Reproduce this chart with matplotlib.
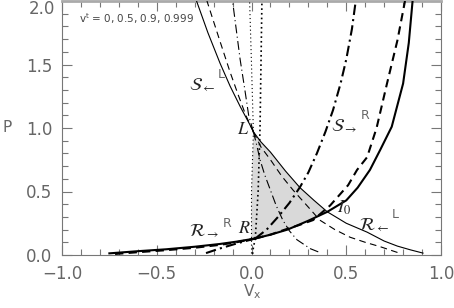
import numpy as np
import matplotlib
matplotlib.use("Agg")
import matplotlib.pyplot as plt
from matplotlib.ticker import MultipleLocator

# states
L_state = (0.01, 0.97)
R_state = (0.02, 0.13)
I0_state = (0.40, 0.34)

# ---- curves from the left state (thin lines) ----
# v^t = 0
sL0_v = [0.01, -0.01, -0.06, -0.113, -0.166, -0.23, -0.29]
sL0_p = [0.97, 1.03, 1.17, 1.33, 1.51, 1.75, 2.0]
rL0_v = [0.01, 0.05, 0.10, 0.18, 0.256, 0.33, 0.40, 0.50, 0.61, 0.70, 0.77, 0.84, 0.905]
rL0_p = [0.97, 0.89, 0.81, 0.66, 0.53, 0.43, 0.34, 0.25, 0.18, 0.11, 0.07, 0.04, 0.015]
# v^t = 0.5
sL1_v = [0.01, -0.03, -0.07, -0.113, -0.17, -0.235]
sL1_p = [0.97, 1.10, 1.26, 1.44, 1.70, 2.0]
rL1_v = [0.01, 0.05, 0.10, 0.16, 0.22, 0.31, 0.36, 0.44, 0.52, 0.60, 0.68, 0.78]
rL1_p = [0.97, 0.85, 0.75, 0.62, 0.51, 0.36, 0.275, 0.20, 0.14, 0.10, 0.065, 0.015]
# v^t = 0.9
sL2_v = [0.01, -0.015, -0.035, -0.06, -0.08, -0.10]
sL2_p = [0.97, 1.10, 1.30, 1.54, 1.77, 2.0]
rL2_v = [0.01, 0.03, 0.045, 0.07, 0.10, 0.13, 0.165, 0.20, 0.24, 0.27, 0.31, 0.36]
rL2_p = [0.97, 0.85, 0.75, 0.63, 0.51, 0.39, 0.275, 0.19, 0.12, 0.09, 0.05, 0.02]
# v^t = 0.999
sL3_v = [0.01, 0.0, -0.01]
sL3_p = [0.97, 1.5, 2.0]
rL3_v = [0.01, 0.0, 0.0, 0.0]
rL3_p = [0.97, 0.5, 0.13, 0.0]

# ---- curves from the right state (thick lines) ----
rR0_v = [-0.75, -0.6, -0.45, -0.3, -0.166, -0.08, 0.02]
rR0_p = [0.013, 0.03, 0.045, 0.065, 0.087, 0.105, 0.13]
sR0_v = [0.02, 0.10, 0.19, 0.30, 0.40, 0.50, 0.56, 0.625, 0.68, 0.74, 0.80, 0.83, 0.85]
sR0_p = [0.13, 0.16, 0.20, 0.27, 0.34, 0.43, 0.53, 0.67, 0.83, 1.01, 1.35, 1.67, 2.0]
rR1_v = [-0.72, -0.6, -0.45, -0.3, -0.166, -0.08, 0.02]
rR1_p = [0.008, 0.022, 0.038, 0.057, 0.08, 0.10, 0.13]
sR1_v = [0.02, 0.10, 0.177, 0.25, 0.325, 0.415, 0.51, 0.557, 0.61, 0.66, 0.715, 0.77, 0.81]
sR1_p = [0.13, 0.16, 0.20, 0.235, 0.275, 0.39, 0.55, 0.67, 0.77, 1.0, 1.35, 1.69, 2.0]
rR2_v = [-0.24, -0.17, -0.08, 0.02]
rR2_p = [0.015, 0.05, 0.09, 0.13]
sR2_v = [0.02, 0.08, 0.14, 0.20, 0.256, 0.30, 0.345, 0.39, 0.43, 0.47, 0.50, 0.53, 0.55]
sR2_p = [0.13, 0.20, 0.30, 0.41, 0.535, 0.65, 0.80, 0.97, 1.14, 1.35, 1.54, 1.78, 2.0]
rR3_v = [0.02, 0.01, 0.005]
rR3_p = [0.13, 0.06, 0.0]
sR3_v = [0.02, 0.035, 0.045, 0.05, 0.055]
sR3_p = [0.13, 0.5, 1.0, 1.5, 2.0]

fig = plt.figure(figsize=(4.54, 3.08), dpi=100)
ax = fig.add_axes([62 / 454, 53 / 308, 379 / 454, 254 / 308])

# shaded region: L -> R along v^t=0.999, R -> I0 along S_R, I0 -> L along R_L
poly_v = rL3_v[:3] + sR0_v[1:5] + rL0_v[:6][::-1]
poly_p = rL3_p[:3] + sR0_p[1:5] + rL0_p[:6][::-1]
ax.fill(poly_v, poly_p, color="#d9d9d9", lw=0, zorder=1)

thin = 0.8
thick = 1.5
thin_styles = ["-", (0, (6, 4)), (0, (8, 3, 1, 3)), (0, (1, 2.5))]
thick_styles = ["-", (0, (4, 2.5)), (0, (5, 2, 1, 2)), (0, (1, 1.8))]
left = [(sL0_v, sL0_p, rL0_v, rL0_p), (sL1_v, sL1_p, rL1_v, rL1_p),
        (sL2_v, sL2_p, rL2_v, rL2_p), (sL3_v, sL3_p, rL3_v, rL3_p)]
right = [(sR0_v, sR0_p, rR0_v, rR0_p), (sR1_v, sR1_p, rR1_v, rR1_p),
         (sR2_v, sR2_p, rR2_v, rR2_p), (sR3_v, sR3_p, rR3_v, rR3_p)]
for ls, (sv, sp, rv, rp) in zip(thin_styles, left):
    ax.plot(sv, sp, color="k", lw=thin, ls=ls, zorder=3)
    ax.plot(rv, rp, color="k", lw=thin, ls=ls, zorder=3)
for i, (ls, (sv, sp, rv, rp)) in enumerate(zip(thick_styles, right)):
    w = 1.2 if i == 3 else thick
    ax.plot(sv, sp, color="k", lw=w, ls=ls, zorder=3)
    ax.plot(rv, rp, color="k", lw=w, ls=ls, zorder=3)

ax.set_xlim(-1.0, 1.0)
ax.set_ylim(0.0, 2.0)
ax.xaxis.set_major_locator(MultipleLocator(0.5))
ax.xaxis.set_minor_locator(MultipleLocator(0.1))
ax.yaxis.set_major_locator(MultipleLocator(0.5))
ax.yaxis.set_minor_locator(MultipleLocator(0.1))
ax.xaxis.set_major_formatter(lambda x, pos: f"{x:.1f}".replace("-", "\u2212"))
# the top label sits lower than its tick, drawn separately below
ax.yaxis.set_major_formatter(lambda y, pos: "" if y > 1.99 else f"{y:.1f}")
ax.tick_params(which="both", direction="in", top=True, right=True, colors="#777777",
               labelcolor="#666666", labelsize=12, width=0.8)
ax.tick_params(which="major", length=7, pad=7)
ax.tick_params(which="minor", length=4)
for s in ax.spines.values():
    s.set_color("#777777")
    s.set_linewidth(0.8)
ax.spines["top"].set_linewidth(2.0)
ax.spines["top"].set_color("#aaaaaa")

fig.text(55 / 454, 1 - 9 / 308, "2.0", color="#666666", fontsize=12, ha="right", va="center")
fig.text(7 / 454, 1 - 128 / 308, "P", color="#666666", fontsize=11, ha="center", va="center")
fig.text(252 / 454, 1 - 292 / 308, r"V$_\mathregular{x}$", color="#666666", fontsize=11,
         ha="center", va="center")

ax.text(-0.91, 1.86, r"v$^\mathregular{t}$ = 0, 0.5, 0.9, 0.999", fontsize=7.5,
        color="#444444", va="center")

lab = dict(math_fontfamily="stix", fontsize=13, color="#222222", ha="center", va="center")
sup = dict(fontsize=9, color="#666666", ha="center", va="center")
ax.text(-0.26, 1.34, r"$\mathcal{S}_{\leftarrow}$", **lab)
ax.text(-0.16, 1.42, "L", **sup)
ax.text(0.49, 1.02, r"$\mathcal{S}_{\rightarrow}$", **lab)
ax.text(0.60, 1.10, "R", **sup)
ax.text(-0.25, 0.19, r"$\mathcal{R}_{\rightarrow}$", **lab)
ax.text(-0.13, 0.25, "R", **sup)
ax.text(0.645, 0.24, r"$\mathcal{R}_{\leftarrow}$", **lab)
ax.text(0.76, 0.32, "L", **sup)
ax.text(-0.045, 0.99, r"$L$", **lab)
ax.text(-0.035, 0.21, r"$R$", **lab)
ax.text(0.49, 0.37, r"$I_0$", **lab)

fig.savefig("out.png", dpi=100)
